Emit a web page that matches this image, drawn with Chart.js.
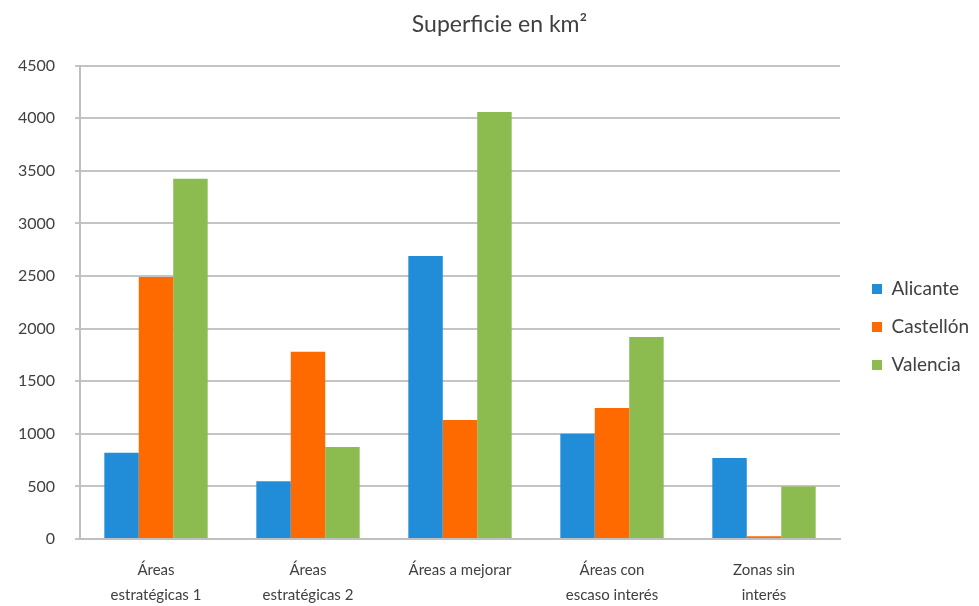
<!DOCTYPE html>
<html>
<head>
<meta charset="utf-8">
<script src="https://cdn.jsdelivr.net/npm/chart.js@4/dist/chart.umd.min.js"></script>
<style>
  html, body { margin: 0; padding: 0; background: #ffffff; }
  #wrap { width: 979px; height: 606px; position: relative; }
</style>
</head>
<body>
<div id="wrap"><canvas id="c"></canvas></div>
<script>
const categories = [
  ["Áreas", "estratégicas 1"],
  ["Áreas", "estratégicas 2"],
  "Áreas a mejorar",
  ["Áreas con", "escaso interés"],
  ["Zonas sin", "interés"]
];
const alicante  = [820, 550, 2690, 1000, 770];
const castellon = [2490, 1780, 1130, 1245, 25];
const valencia  = [3425, 875, 4060, 1920, 500];
const yTicks = [0, 500, 1000, 1500, 2000, 2500, 3000, 3500, 4000, 4500];

const FONT = "Lato, 'Open Sans', sans-serif";
const TEXT = "#404040";

// Legend / title placement helper.
const legendPlace = {
  id: "legendPlace",
  afterInit(chart) {
    const lg = chart.legend;
    if (!lg) return;
    const orig = lg.fit.bind(lg);
    lg.fit = function () { orig(); this.width = 139; };
  },
  afterLayout(chart) {
    const lg = chart.legend;
    if (lg) {
      lg.left += 13; lg.right += 13;
      lg.top += 24; lg.bottom += 24;
    }
    const t = chart.titleBlock;
    if (t) { t.left += 20; }
  }
};

new Chart(document.getElementById("c"), {
  type: "bar",
  data: {
    labels: categories,
    datasets: [
      { label: "Alicante", data: alicante, backgroundColor: "#218dd8" },
      { label: "Castellón", data: castellon, backgroundColor: "#ff6a00" },
      { label: "Valencia", data: valencia, backgroundColor: "#8cbb4f" }
    ]
  },
  plugins: [legendPlace],
  options: {
    responsive: true,
    maintainAspectRatio: false,
    animation: false,
    layout: { padding: { left: 0, right: 0, top: 0, bottom: 0 } },
    datasets: { bar: { categoryPercentage: 0.68, barPercentage: 1.0 } },
    plugins: {
      title: {
        display: true,
        text: "Superficie en km²",
        color: TEXT,
        font: { family: FONT, size: 23, weight: "normal", lineHeight: 1.2 },
        padding: { top: 11, bottom: 27 }
      },
      legend: {
        position: "right",
        labels: {
          boxWidth: 10,
          boxHeight: 10,
          padding: 19,
          color: TEXT,
          font: { family: FONT, size: 19 }
        }
      },
      tooltip: { enabled: false }
    },
    scales: {
      x: {
        afterFit(scale) { scale.height = 67; },
        grid: { display: false, drawTicks: false },
        border: { display: true, color: "#bfbfbf", width: 2 },
        ticks: {
          color: TEXT,
          font: { family: FONT, size: 15, lineHeight: 1.65 },
          maxRotation: 0,
          autoSkip: false,
          padding: 19
        }
      },
      y: {
        min: 0,
        max: 4500,
        afterBuildTicks: (axis) => { axis.ticks = yTicks.map(v => ({ value: v })); },
        afterFit(scale) { scale.width = 80; },
        grid: { color: "#c4c4c4", lineWidth: 2, tickLength: 5 },
        border: { display: true, color: "#bfbfbf", width: 2 },
        ticks: {
          color: TEXT,
          font: { family: FONT, size: 16 },
          padding: 20,
          callback: (v) => String(v)
        }
      }
    }
  }
});
</script>
</body>
</html>
